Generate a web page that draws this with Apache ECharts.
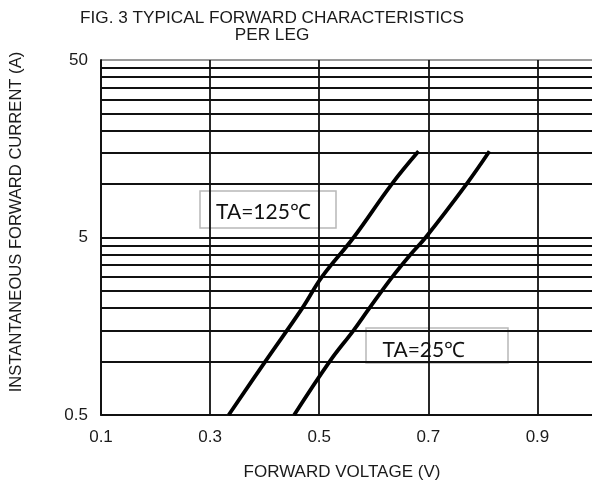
<!DOCTYPE html>
<html><head><meta charset="utf-8">
<script src="https://cdn.jsdelivr.net/npm/echarts@6/dist/echarts.min.js"></script>
<style>html,body{margin:0;padding:0;background:#fff}#c{width:592px;height:486px}</style>
</head><body><div id="c"></div>
<script>
// ---- data ----
const titleLines = ['FIG. 3 TYPICAL FORWARD CHARACTERISTICS', 'PER LEG'];
const xAxisName = 'FORWARD VOLTAGE (V)';
const yAxisName = 'INSTANTANEOUS FORWARD CURRENT (A)';
const xTickLabels = [0.1, 0.3, 0.5, 0.7, 0.9];
const yTickLabels = [0.5, 5, 50];
const yGridValues = [0.5, 1, 1.5, 2, 2.5, 3, 3.5, 4, 4.5, 5, 10, 15, 20, 25, 30, 35, 40, 45, 50];
const seriesNames = ['TA=125℃', 'TA=25℃'];
// forward voltage (V) / forward current (A), TA = 125 °C
const vf125 = [0.334, 0.401, 0.469, 0.505, 0.563, 0.633, 0.682];
const if125 = [0.5, 1.0, 2.0, 3.0, 5.0, 10, 15.3];
// TA = 25 °C
const vf25 = [0.454, 0.519, 0.563, 0.592, 0.634, 0.667, 0.695, 0.770, 0.812];
const if25 = [0.5, 1.0, 1.5, 2.0, 3.0, 4.0, 5.0, 10, 15.3];

const zip = (xs, ys) => xs.map((x, i) => [x, ys[i]]);
const FONT = 'Liberation Sans, Arial, sans-serif';
const gridColors = yGridValues.map((v, i) => i === yGridValues.length - 1 ? '#9a9a9a' : '#111');

const chart = echarts.init(document.getElementById('c'), null, {renderer: 'canvas'});
chart.setOption({
  animation: false,
  backgroundColor: '#fff',
  title: {
    text: titleLines.join('\n'),
    left: 272, top: 10.5, padding: 0, textAlign: 'center',
    textStyle: {fontFamily: FONT, fontSize: 17.2, fontWeight: 'normal', color: '#1a1a1a', lineHeight: 16.2}
  },
  grid: {left: 100, right: 0, top: 60, bottom: 71, containLabel: false},
  xAxis: {
    type: 'value', min: 0.1, max: 1.0,
    name: xAxisName, nameLocation: 'middle', nameGap: 49,
    nameTextStyle: {fontFamily: FONT, fontSize: 17, color: '#1a1a1a', padding: [0, 9, 0, 0]},
    axisLine: {show: true, lineStyle: {color: '#111', width: 1.8}},
    axisTick: {show: false, customValues: xTickLabels},
    axisLabel: {customValues: xTickLabels, margin: 14, fontFamily: FONT, fontSize: 17, color: '#1a1a1a',
      formatter: v => Number(v).toFixed(1)},
    splitLine: {show: true, lineStyle: {color: '#111', width: 1.8}}
  },
  yAxis: {
    type: 'log', logBase: 10, min: 0.5, max: 50,
    name: yAxisName, nameLocation: 'middle', nameGap: 76,
    nameTextStyle: {fontFamily: FONT, fontSize: 16.6, color: '#1a1a1a', padding: [0, 0, 0, 31]},
    axisLine: {show: true, lineStyle: {color: '#111', width: 1.8}},
    axisTick: {show: false, customValues: yGridValues},
    axisLabel: {customValues: yTickLabels, margin: 13, fontFamily: FONT, fontSize: 17, color: '#1a1a1a',
      formatter: v => String(Math.round(v * 10) / 10)},
    splitLine: {show: true, lineStyle: {color: gridColors, width: 1.8}}
  },
  series: [
    {name: seriesNames[0], type: 'line', data: zip(vf125, if125), showSymbol: false, smooth: 0.4,
      lineStyle: {color: '#000', width: 3.8}, z: 5},
    {name: seriesNames[1], type: 'line', data: zip(vf25, if25), showSymbol: false, smooth: 0.4,
      lineStyle: {color: '#000', width: 3.8}, z: 5}
  ],
  graphic: [
    {type: 'group', x: 200, y: 191, z: 20, children: [
      {type: 'rect', shape: {x: 0, y: 0, width: 136, height: 37}, style: {fill: '#fff', stroke: '#b8b8b8', lineWidth: 1.5}},
      {type: 'text', x: 16, y: 21, style: {text: seriesNames[0], fontFamily: 'Lato, Open Sans, sans-serif', fontSize: 21,
        fill: '#111', align: 'left', verticalAlign: 'middle', textAlign: 'left', textVerticalAlign: 'middle'}}
    ]},
    {type: 'group', x: 366, y: 328, z: 20, children: [
      {type: 'rect', shape: {x: 0, y: 0, width: 142, height: 35}, style: {fill: '#fff', stroke: '#b8b8b8', lineWidth: 1.5}},
      {type: 'text', x: 16.5, y: 22, style: {text: seriesNames[1], fontFamily: 'Lato, Open Sans, sans-serif', fontSize: 21,
        fill: '#111', align: 'left', verticalAlign: 'middle', textAlign: 'left', textVerticalAlign: 'middle'}}
    ]}
  ]
});
</script>
</body></html>
